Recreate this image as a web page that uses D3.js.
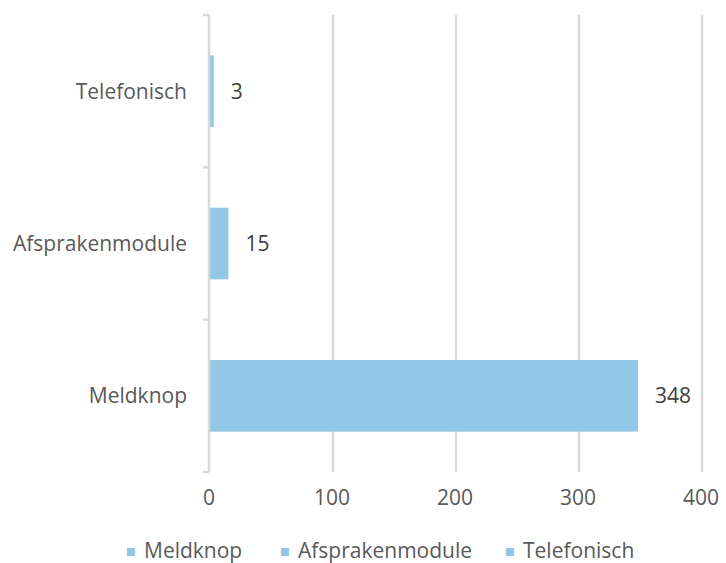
<!DOCTYPE html>
<html>
<head>
<meta charset="utf-8">
<script src="https://cdn.jsdelivr.net/npm/d3@7"></script>
<style>
  html, body { margin: 0; padding: 0; background: #fff; }
  svg text { font-family: "Open Sans", "Noto Sans", sans-serif; fill: #595959; }
</style>
</head>
<body>
<svg id="chart" width="726" height="563"></svg>
<script>
// Channels through which reports came in
const categories = ["Meldknop", "Afsprakenmodule", "Telefonisch"];
const values = [348, 15, 3];
const xTicks = [0, 100, 200, 300, 400];
const legendLabels = ["Meldknop", "Afsprakenmodule", "Telefonisch"];

const barColor = "#92C8E5";
const gridColor = "#d9d9d9";
const fontSize = 21;

const svg = d3.select("#chart");
const plot = { left: 210, right: 702, top: 15, bottom: 472 };

const x = d3.scaleLinear().domain([0, 400]).range([plot.left, plot.right]);
// Categories listed bottom-to-top: the first one sits at the bottom
const y = d3.scaleBand()
  .domain(categories.slice().reverse())
  .range([plot.top, plot.bottom])
  .paddingInner(0.53)
  .paddingOuter(0.265);

// vertical gridlines
svg.append("g")
  .selectAll("line")
  .data(xTicks.filter(t => t > 0))
  .join("line")
  .attr("x1", d => x(d)).attr("x2", d => x(d))
  .attr("y1", plot.top).attr("y2", plot.bottom)
  .attr("stroke", gridColor)
  .attr("stroke-width", 2.5);

// bars
svg.append("g")
  .selectAll("rect")
  .data(categories.map((c, i) => ({ c, v: values[i] })))
  .join("rect")
  .attr("x", x(0))
  .attr("y", d => y(d.c))
  .attr("width", d => x(d.v) - x(0))
  .attr("height", y.bandwidth())
  .attr("fill", barColor);

// category axis with boundary ticks
const bounds = d3.range(categories.length + 1).map(i => plot.top + i * (plot.bottom - plot.top) / categories.length);
const axisG = svg.append("g");
axisG.append("line")
  .attr("x1", x(0) - 1).attr("x2", x(0) - 1)
  .attr("y1", plot.top).attr("y2", plot.bottom)
  .attr("stroke", gridColor).attr("stroke-width", 2.5);
axisG.selectAll("line.tick")
  .data(bounds)
  .join("line")
  .attr("class", "tick")
  .attr("x1", x(0) - 7).attr("x2", x(0) - 1)
  .attr("y1", d => d).attr("y2", d => d)
  .attr("stroke", gridColor).attr("stroke-width", 2.5);

// category labels
svg.append("g")
  .selectAll("text")
  .data(categories)
  .join("text")
  .attr("x", 187)
  .attr("y", d => y(d) + y.bandwidth() / 2)
  .attr("dy", "0.35em")
  .attr("text-anchor", "end")
  .attr("font-size", fontSize)
  .text(d => d);

// value labels
svg.append("g")
  .selectAll("text")
  .data(categories.map((c, i) => ({ c, v: values[i] })))
  .join("text")
  .attr("x", d => x(d.v) + 17)
  .attr("y", d => y(d.c) + y.bandwidth() / 2)
  .attr("dy", "0.35em")
  .attr("font-size", fontSize)
  .style("fill", "#404040")
  .text(d => d.v);

// x tick labels
svg.append("g")
  .selectAll("text")
  .data(xTicks)
  .join("text")
  .attr("x", d => x(d) - 1)
  .attr("y", 498)
  .attr("dy", "0.35em")
  .attr("text-anchor", "middle")
  .attr("font-size", fontSize)
  .text(d => d);

// legend
const legendX = [127, 281, 506];
const legend = svg.append("g");
legendLabels.forEach((name, i) => {
  legend.append("rect")
    .attr("x", legendX[i]).attr("y", 548)
    .attr("width", 8).attr("height", 8)
    .attr("fill", barColor);
  legend.append("text")
    .attr("x", legendX[i] + 17)
    .attr("y", 551)
    .attr("dy", "0.35em")
    .attr("font-size", fontSize)
    .text(name);
});
</script>
</body>
</html>
